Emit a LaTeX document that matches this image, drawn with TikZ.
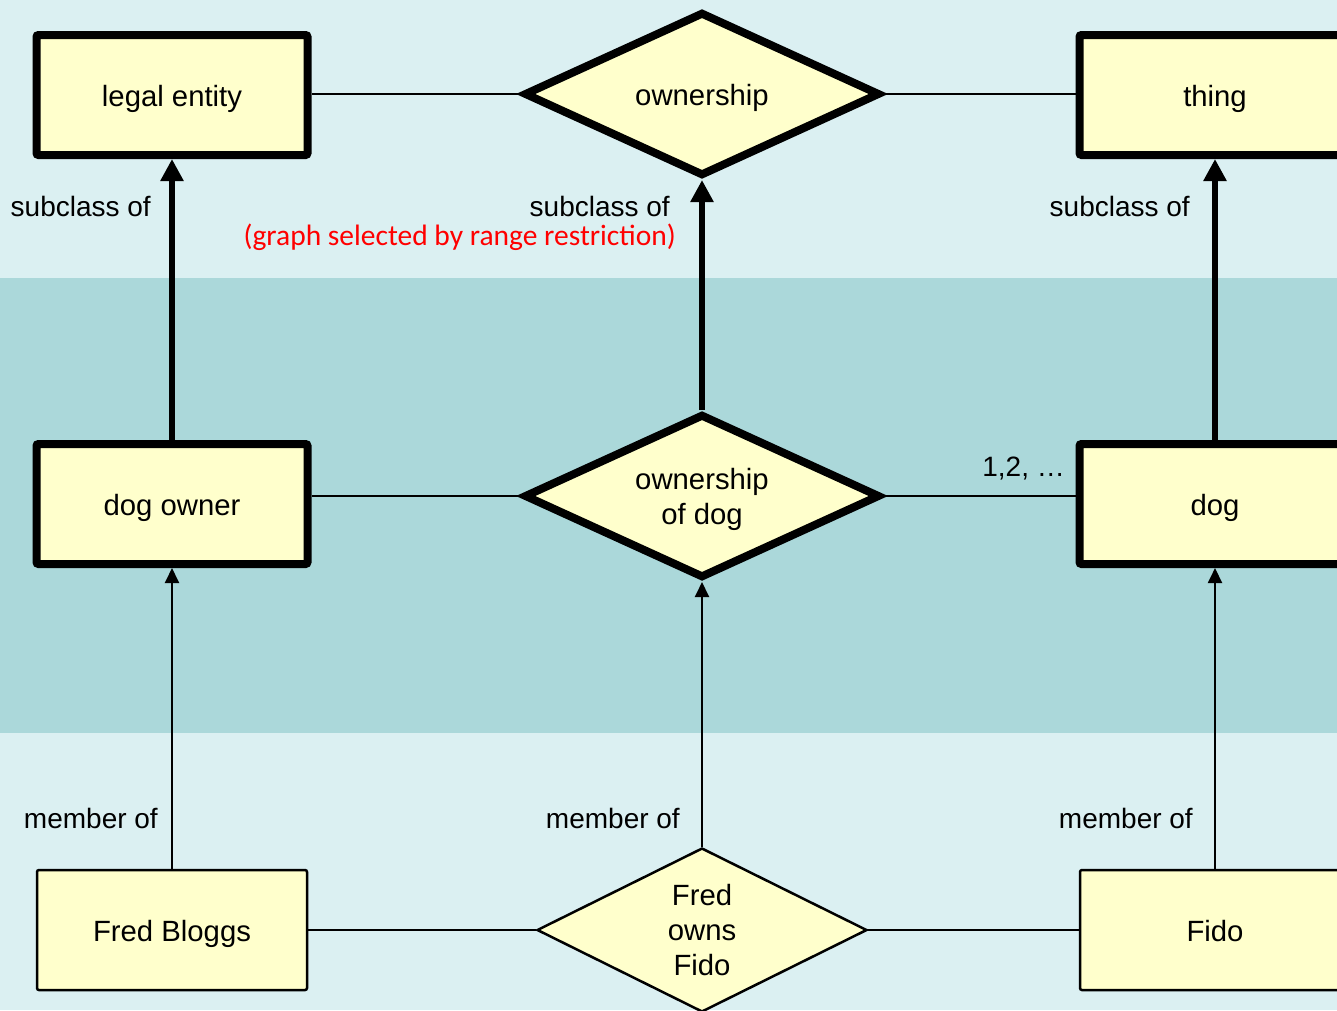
\documentclass[tikz,border=0pt]{standalone}
\usepackage{fontspec}
\setmainfont{Liberation Sans}
\newfontfamily\calibri{Carlito}
\usepackage{tikz}
\usetikzlibrary{shapes.geometric,arrows.meta}
\definecolor{paleband}{HTML}{DBF0F2}
\definecolor{darkband}{HTML}{ABD8DA}
\definecolor{boxfill}{HTML}{FFFFCC}
\tikzset{ebox/.style={draw,fill=boxfill,rectangle,rounded corners=2pt,inner sep=0pt,font=\fontsize{29.3}{35}\selectfont}}
\tikzset{ctext/.style={text height=24pt,text depth=2pt}}
\tikzset{kbox/.style={ebox,ctext,line width=8pt,minimum width=271pt,minimum height=120pt}}
\tikzset{ibox/.style={ebox,ctext,line width=2.5pt,minimum width=270pt,minimum height=120pt}}
\tikzset{krel/.style={ebox,diamond,sharp corners,line width=8pt,minimum width=356pt,minimum height=164pt,aspect=2.2}}
\tikzset{irel/.style={ebox,diamond,sharp corners,line width=2.5pt,minimum width=330pt,minimum height=164pt,aspect=2}}
\tikzset{link/.style={line width=2.5pt}}
\tikzset{subarr/.style={line width=6pt,-{Triangle[length=22pt,width=22pt]}}}
\tikzset{memarr/.style={line width=2pt,-{Triangle[length=15pt,width=14pt]}}}
\tikzset{lbl/.style={anchor=east,font=\fontsize{28}{35}\selectfont,inner sep=0pt}}

\begin{document}
\begin{tikzpicture}[x=1pt,y=-1pt]
    \useasboundingbox (0,0) rectangle (1337,1010);
    \clip (0,0) rectangle (1337,1010);
    \fill[paleband] (0,0) rectangle (1337,1010);
    \fill[darkband] (0,278) rectangle (1337,733);
    % classes and relations
    \node[kbox] (lentity) at (172,95) {legal entity};
    \node[krel,ctext] (own) at (702,94) {ownership};
    \node[kbox] (thing) at (1215,95) {thing};
    \node[kbox] (downer) at (172,504) {dog owner};
    \node[krel,align=center,text depth=0pt] (owndog) at (702,496) {ownership\\of dog};
    \node[kbox] (dog) at (1215,504) {dog};
    % instances
    \node[ibox] (fred) at (172,930) {Fred Bloggs};
    \node[irel,align=center,text depth=-7pt] (fof) at (702,930) {Fred\\owns\\Fido};
    \node[ibox] (fido) at (1215,930) {Fido};
    % relation links
    \draw[link] (own.west) -- (own.west -| lentity.east);
    \draw[link] (own.east) -- (own.east -| thing.west);
    \draw[link] (owndog.west) -- (owndog.west -| downer.east);
    \draw[link] (owndog.east) -- (owndog.east -| dog.west);
    \draw[link] (fof.west) -- (fof.west -| fred.east);
    \draw[link] (fof.east) -- (fof.east -| fido.west);
    % subclass of
    \draw[subarr] (downer) -- (lentity);
    \draw[subarr] (owndog) -- (own);
    \draw[subarr] (dog) -- (thing);
    % member of
    \draw[memarr] (fred) -- (downer);
    \draw[memarr] (fof) -- (owndog);
    \draw[memarr] (fido) -- (dog);
    % labels
    \node[lbl] (sub1) at (151,206) {subclass of};
    \node[lbl] (sub2) at (670,206) {subclass of};
    \node[lbl,text=red,font=\calibri\fontsize{29.5}{35}\selectfont] (restr) at (676,237) {(graph selected by range restriction)};
    \node[lbl] (sub3) at (1190,206) {subclass of};
    \node[lbl] (card) at (1065,469) {1,2, …};
    \node[lbl] (mem1) at (158,818) {member of};
    \node[lbl] (mem2) at (680,818) {member of};
    \node[lbl] (mem3) at (1193,818) {member of};
\end{tikzpicture}
\end{document}
